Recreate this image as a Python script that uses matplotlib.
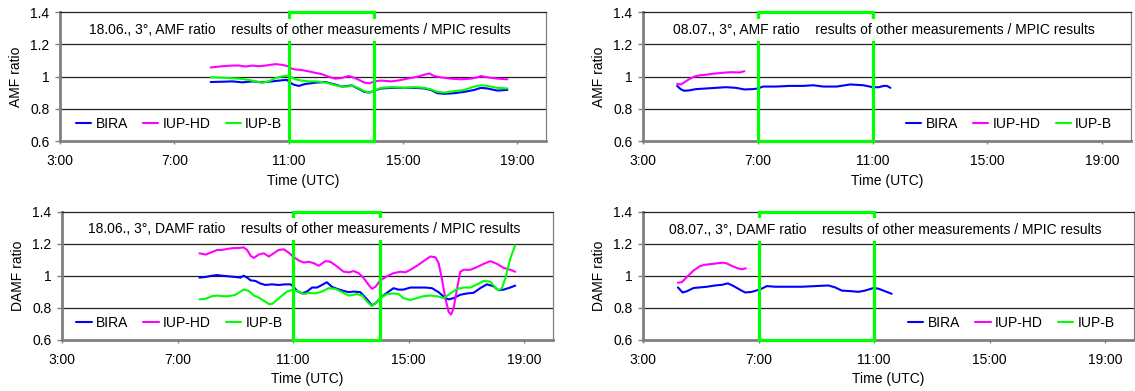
import matplotlib
matplotlib.use("Agg")
import matplotlib.pyplot as plt
from matplotlib.patches import Rectangle

plt.rcParams['font.family'] = ['Liberation Sans', 'DejaVu Sans']
plt.rcParams['font.size'] = 10

# ---------------- data ----------------
# 18.06., AMF ratio
amf0618_bira_t = [8.27, 8.68, 9.03, 9.38, 9.72, 10.07, 10.42, 10.77, 10.94, 11.06, 11.17, 11.35, 11.58, 11.93, 12.28,
                  12.63, 12.86, 13.09, 13.19, 13.42, 13.65, 13.83, 14.0, 14.23, 14.58, 15.04, 15.39, 15.74, 15.97,
                  16.2, 16.44, 16.79, 17.14, 17.49, 17.72, 17.95, 18.3, 18.65]
amf0618_bira_v = [0.967, 0.969, 0.971, 0.965, 0.971, 0.965, 0.971, 0.978, 0.980, 0.963, 0.951, 0.943, 0.955, 0.963, 0.967,
                  0.951, 0.939, 0.943, 0.947, 0.927, 0.906, 0.902, 0.914, 0.927, 0.931, 0.931, 0.931, 0.927, 0.918,
                  0.898, 0.894, 0.898, 0.906, 0.918, 0.931, 0.927, 0.914, 0.918]
amf0618_iuphd_t = [8.27, 8.68, 9.03, 9.26, 9.49, 9.72, 9.95, 10.19, 10.54, 10.77, 10.94, 11.12, 11.23, 11.46, 11.70,
                   11.93, 12.16, 12.39, 12.63, 12.86, 13.09, 13.19, 13.42, 13.65, 13.83, 14.0, 14.23, 14.58, 14.81,
                   15.16, 15.51, 15.74, 15.92, 16.09, 16.32, 16.67, 17.02, 17.37, 17.60, 17.72, 17.95, 18.30, 18.65]
amf0618_iuphd_v = [1.057, 1.065, 1.069, 1.069, 1.063, 1.069, 1.065, 1.069, 1.078, 1.073, 1.067, 1.049, 1.045, 1.041, 1.033,
                   1.024, 1.016, 1.000, 0.988, 0.992, 1.004, 1.000, 0.984, 0.963, 0.959, 0.971, 0.976, 0.971, 0.976,
                   0.988, 1.000, 1.012, 1.020, 1.004, 0.996, 0.988, 0.984, 0.988, 0.996, 1.004, 0.996, 0.988, 0.984]
amf0618_iupb_t = [8.27, 8.68, 9.26, 9.61, 9.84, 10.07, 10.30, 10.54, 10.77, 10.94, 11.06, 11.23, 11.46, 11.70, 11.93,
                  12.16, 12.39, 12.63, 12.86, 13.09, 13.19, 13.42, 13.65, 13.83, 14.0, 14.23, 14.58, 15.04, 15.39,
                  15.74, 15.97, 16.2, 16.44, 16.79, 17.14, 17.49, 17.72, 17.95, 18.3, 18.65]
amf0618_iupb_v = [0.996, 0.994, 0.988, 0.980, 0.971, 0.963, 0.971, 0.992, 1.002, 1.006, 1.000, 0.984, 0.976, 0.971, 0.971,
                  0.967, 0.959, 0.947, 0.939, 0.939, 0.947, 0.931, 0.910, 0.902, 0.914, 0.931, 0.935, 0.931, 0.935,
                  0.931, 0.922, 0.906, 0.902, 0.910, 0.918, 0.939, 0.947, 0.943, 0.931, 0.927]

# 18.06., DAMF ratio
damf0618_bira_t = [7.76, 7.97, 8.20, 8.37, 8.54, 8.77, 9.0, 9.18, 9.29, 9.41, 9.53, 9.70, 9.87, 10.04, 10.27, 10.50,
                   10.73, 10.91, 11.0, 11.14, 11.31, 11.48, 11.66, 11.83, 12.0, 12.17, 12.35, 12.52, 12.75, 12.93,
                   13.10, 13.33, 13.56, 13.73, 13.85, 14.02, 14.25, 14.48, 14.65, 14.82, 15.06, 15.29, 15.58, 15.81,
                   16.04, 16.27, 16.39, 16.56, 16.79, 17.02, 17.25, 17.48, 17.71, 17.94, 18.11, 18.29, 18.52, 18.69]
damf0618_bira_v = [0.988, 0.992, 1.000, 1.004, 1.000, 0.996, 0.992, 0.988, 1.000, 0.988, 0.971, 0.967, 0.951, 0.942, 0.946,
                   0.942, 0.946, 0.946, 0.934, 0.905, 0.889, 0.901, 0.926, 0.926, 0.942, 0.959, 0.930, 0.918, 0.905,
                   0.897, 0.901, 0.897, 0.852, 0.815, 0.827, 0.860, 0.893, 0.922, 0.913, 0.913, 0.926, 0.926, 0.926,
                   0.922, 0.897, 0.860, 0.852, 0.860, 0.881, 0.889, 0.893, 0.922, 0.946, 0.934, 0.909, 0.913, 0.926,
                   0.938]
damf0618_iuphd_t = [7.76, 7.97, 8.20, 8.37, 8.54, 8.77, 8.95, 9.12, 9.29, 9.41, 9.53, 9.64, 9.81, 9.99, 10.16, 10.33,
                    10.50, 10.68, 10.85, 11.0, 11.20, 11.37, 11.54, 11.72, 11.89, 12.12, 12.29, 12.52, 12.75, 12.93,
                    13.10, 13.27, 13.45, 13.62, 13.73, 13.85, 14.02, 14.25, 14.48, 14.72, 14.89, 15.06, 15.29, 15.52,
                    15.75, 15.93, 16.04, 16.15, 16.27, 16.39, 16.47, 16.56, 16.68, 16.79, 16.91, 17.14, 17.37, 17.60,
                    17.83, 18.06, 18.29, 18.52, 18.69]
damf0618_iuphd_v = [1.140, 1.132, 1.148, 1.161, 1.161, 1.169, 1.173, 1.173, 1.177, 1.161, 1.124, 1.111, 1.132, 1.140,
                    1.120, 1.140, 1.161, 1.165, 1.144, 1.120, 1.095, 1.082, 1.087, 1.078, 1.062, 1.091, 1.087, 1.058,
                    1.025, 1.021, 1.029, 1.016, 0.984, 0.942, 0.918, 0.930, 0.971, 0.996, 1.016, 1.025, 1.021, 1.037,
                    1.062, 1.091, 1.120, 1.115, 1.078, 0.984, 0.860, 0.773, 0.757, 0.798, 0.922, 1.025, 1.037, 1.037,
                    1.054, 1.074, 1.091, 1.074, 1.049, 1.037, 1.025]
damf0618_iupb_t = [7.76, 7.97, 8.20, 8.37, 8.54, 8.77, 9.0, 9.18, 9.29, 9.47, 9.64, 9.81, 9.99, 10.16, 10.27, 10.44,
                   10.62, 10.79, 11.0, 11.20, 11.37, 11.54, 11.77, 12.0, 12.23, 12.46, 12.70, 12.93, 13.21, 13.39,
                   13.56, 13.73, 13.85, 14.02, 14.25, 14.48, 14.65, 14.82, 15.06, 15.29, 15.52, 15.75, 15.98, 16.21,
                   16.45, 16.68, 16.91, 17.14, 17.37, 17.60, 17.83, 18.0, 18.11, 18.23, 18.35, 18.52, 18.69]
damf0618_iupb_v = [0.852, 0.856, 0.872, 0.876, 0.872, 0.872, 0.880, 0.901, 0.913, 0.905, 0.876, 0.864, 0.843, 0.823,
                   0.823, 0.848, 0.876, 0.901, 0.913, 0.901, 0.885, 0.893, 0.889, 0.901, 0.922, 0.918, 0.897, 0.876,
                   0.885, 0.876, 0.839, 0.810, 0.827, 0.860, 0.885, 0.889, 0.885, 0.860, 0.848, 0.860, 0.872, 0.876,
                   0.872, 0.860, 0.889, 0.918, 0.926, 0.926, 0.946, 0.967, 0.963, 0.926, 0.909, 0.922, 0.984, 1.107,
                   1.190]

# 08.07., AMF ratio
amf0807_bira_t = [4.19, 4.31, 4.43, 4.60, 4.84, 5.19, 5.54, 5.89, 6.24, 6.53, 6.82, 7.0, 7.18, 7.64, 8.11, 8.58, 8.93,
                  9.28, 9.75, 10.22, 10.68, 11.0, 11.21, 11.39, 11.50, 11.62]
amf0807_bira_v = [0.943, 0.923, 0.913, 0.915, 0.923, 0.927, 0.931, 0.935, 0.931, 0.921, 0.923, 0.927, 0.939, 0.939,
                  0.943, 0.943, 0.947, 0.939, 0.939, 0.952, 0.947, 0.935, 0.935, 0.943, 0.943, 0.931]
amf0807_iuphd_t = [4.19, 4.31, 4.43, 4.60, 4.78, 4.95, 5.19, 5.42, 5.65, 5.89, 6.12, 6.36, 6.53]
amf0807_iuphd_v = [0.956, 0.952, 0.964, 0.984, 1.000, 1.008, 1.012, 1.018, 1.022, 1.026, 1.028, 1.026, 1.034]
amf0807_iupb_t = []
amf0807_iupb_v = []

# 08.07., DAMF ratio
damf0807_bira_t = [4.21, 4.37, 4.52, 4.75, 4.98, 5.21, 5.50, 5.73, 5.94, 6.14, 6.37, 6.54, 6.77, 7.06, 7.29, 7.58,
                   8.04, 8.50, 8.96, 9.42, 9.65, 9.88, 10.23, 10.46, 10.69, 10.98, 11.15, 11.32, 11.61]
damf0807_bira_v = [0.927, 0.895, 0.903, 0.923, 0.927, 0.931, 0.939, 0.943, 0.952, 0.935, 0.911, 0.895, 0.899, 0.915,
                   0.935, 0.931, 0.931, 0.931, 0.935, 0.939, 0.927, 0.907, 0.903, 0.899, 0.907, 0.923, 0.919, 0.907,
                   0.887]
damf0807_iuphd_t = [4.21, 4.35, 4.52, 4.75, 4.98, 5.16, 5.39, 5.62, 5.79, 5.90, 6.08, 6.25, 6.42, 6.56]
damf0807_iuphd_v = [0.956, 0.960, 0.992, 1.032, 1.061, 1.069, 1.073, 1.079, 1.081, 1.077, 1.061, 1.048, 1.040, 1.046]
damf0807_iupb_t = []
damf0807_iupb_v = []

series_names = ["BIRA", "IUP-HD", "IUP-B"]
series_colors = ["#0000FF", "#FF00FF", "#00FF00"]
xtick_vals = [3, 7, 11, 15, 19]
xtick_labels = ["3:00", "7:00", "11:00", "15:00", "19:00"]
ytick_vals = [0.6, 0.8, 1.0, 1.2, 1.4]
ytick_labels = ["0.6", "0.8", "1", "1.2", "1.4"]

panels = [
    dict(rect=[60/1135, 1-141.3/391, 486/1135, 129.2/391],
         title="18.06., 3°, AMF ratio    results of other measurements / MPIC results",
         ylabel="AMF ratio", box=(11, 14), text_y=0.86, leg_x=0.033,
         data=[(amf0618_bira_t, amf0618_bira_v), (amf0618_iuphd_t, amf0618_iuphd_v),
               (amf0618_iupb_t, amf0618_iupb_v)]),
    dict(rect=[62/1135, 1-339.7/391, 491/1135, 128/391],
         title="18.06., 3°, DAMF ratio    results of other measurements / MPIC results",
         ylabel="DAMF ratio", box=(11, 14), text_y=0.865, leg_x=0.029,
         data=[(damf0618_bira_t, damf0618_bira_v), (damf0618_iuphd_t, damf0618_iuphd_v),
               (damf0618_iupb_t, damf0618_iupb_v)]),
    dict(rect=[643/1135, 1-141.3/391, 488/1135, 129.2/391],
         title="08.07., 3°, AMF ratio    results of other measurements / MPIC results",
         ylabel="AMF ratio", box=(7, 11), text_y=0.86, leg_x=0.539,
         data=[(amf0807_bira_t, amf0807_bira_v), (amf0807_iuphd_t, amf0807_iuphd_v),
               (amf0807_iupb_t, amf0807_iupb_v)]),
    dict(rect=[643/1135, 1-339.7/391, 491/1135, 128/391],
         title="08.07., 3°, DAMF ratio    results of other measurements / MPIC results",
         ylabel="DAMF ratio", box=(7, 11), text_y=0.86, leg_x=0.54,
         data=[(damf0807_bira_t, damf0807_bira_v), (damf0807_iuphd_t, damf0807_iuphd_v),
               (damf0807_iupb_t, damf0807_iupb_v)]),
]

fig = plt.figure(figsize=(11.35, 3.91), dpi=100)
gray = "#808080"
for p in panels:
    ax = fig.add_axes(p["rect"])
    ax.set_xlim(3, 20)
    ax.set_ylim(0.6, 1.4)
    for y in [0.8, 1.0, 1.2]:
        ax.axhline(y, color="#202020", lw=0.9, zorder=1)
    handles = []
    for (t, v), name, c in zip(p["data"], series_names, series_colors):
        h, = ax.plot(t, v, color=c, lw=1.5, label=name, zorder=2, solid_capstyle='round')
        handles.append(h)
    x0, x1 = p["box"]
    ax.add_patch(Rectangle((x0, 0.6), x1 - x0, 0.8, fill=False, ec="#00FF00", lw=2.3,
                           clip_on=False, zorder=4))
    ax.text(0.494, p["text_y"], p["title"], transform=ax.transAxes, ha="center", va="center",
            fontsize=10, zorder=6,
            bbox=dict(facecolor="white", edgecolor="none", pad=3))
    ax.set_xticks(xtick_vals)
    ax.set_xticklabels(xtick_labels)
    ax.set_yticks(ytick_vals)
    ax.set_yticklabels(ytick_labels)
    ax.tick_params(axis="x", direction="out", length=2.5, width=1, color=gray, pad=7, labelsize=10)
    ax.tick_params(axis="y", direction="out", length=3.5, width=1, color=gray, pad=4, labelsize=10)
    ax.set_xlabel("Time (UTC)", fontsize=10, labelpad=4)
    ax.set_ylabel(p["ylabel"], fontsize=10, labelpad=5)
    for side in ["left", "bottom"]:
        ax.spines[side].set_color(gray)
        ax.spines[side].set_linewidth(2)
    ax.spines["top"].set_color("#202020")
    ax.spines["top"].set_linewidth(0.9)
    ax.spines["right"].set_color(gray)
    ax.spines["right"].set_linewidth(0.9)
    ax.legend(handles=handles, loc="center left", bbox_to_anchor=(p["leg_x"], 0.134), ncol=3,
              frameon=False, handlelength=1.1, handletextpad=0.3, columnspacing=1.1,
              borderpad=0, borderaxespad=0, fontsize=10)

fig.savefig("out.png", dpi=100)
